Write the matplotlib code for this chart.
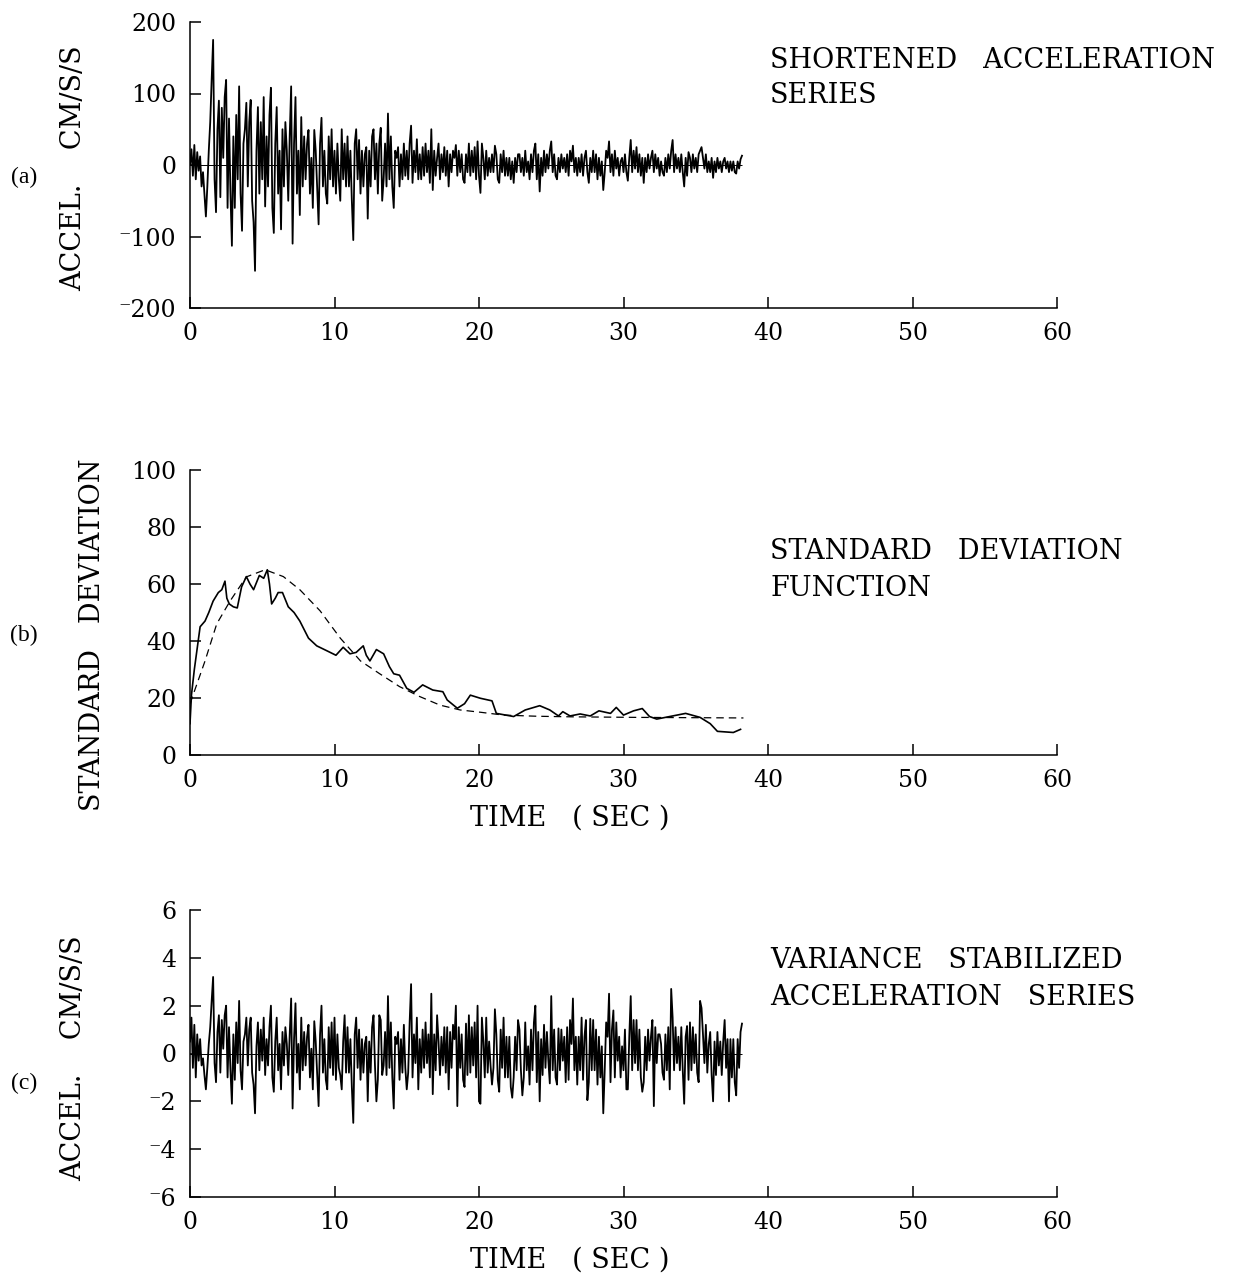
import numpy as np
import matplotlib
matplotlib.use('Agg')
import matplotlib.pyplot as plt

# %% values

# (a) shortened acceleration series (cm/s/s), one value every 0.1 s
accel = [
    0, 22, -15, 28, -20, 18, -8, 12, -30, -10,
    -40, -72, -30, 20, 60, 120, 175, -20, -66, 50,
    90, -45, 80, 10, 95, 119, -60, 65, -40, -113,
    40, -60, 70, -20, 110, -40, -92, 30, 50, 87,
    -30, 60, 91, -50, -80, -148, 20, 81, -40, 60,
    -20, 95, -58, 40, -30, 70, 108, -60, -95, 30,
    81, -40, 20, -90, 50, -30, 60, 20, -50, 40,
    110, -110, 30, 95, -40, 20, -70, 67, -30, 40,
    -20, 30, 49, -40, 10, -60, 49, 20, -30, -83,
    30, 66, -30, 20, -40, -54, 40, -20, 50, -30,
    20, -40, 30, -20, -50, 50, -20, 30, -30, 40,
    -30, 20, -50, -105, 30, 50, -20, 35, -40, 20,
    -30, 15, 25, -75, 20, -30, 40, 50, -20, 30,
    -40, 30, 52, -50, -20, 30, -30, 72, -20, 40,
    -30, -60, 20, 10, 25, -30, 15, -20, 30, -15,
    20, -20, 30, 55, -25, 20, -10, 36, -20, 15,
    -20, 25, -15, 30, -10, 20, -25, 50, -35, 20,
    -15, 10, 30, -20, 15, -10, 25, -15, 20, -30,
    15, -10, 20, 10, 28, -15, 20, -10, 15, -20,
    -25, 15, -10, 30, -15, 20, -10, 25, -20, 33,
    -15, -39, 30, 10, -20, 20, -15, 10, -10, 15,
    -10, 27, 15, -20, -25, 15, -10, 20, -15, 10,
    -15, 10, -20, 5, -25, 10, -10, 15, 15, -10,
    10, -15, 20, -10, 5, -20, 15, -10, 20, 30,
    -20, 15, -37, 10, -15, 20, -10, 15, -5, 20,
    33, -10, 15, -15, -20, 10, -10, 15, -5, 10,
    -10, 15, -15, 20, 5, 27, -10, 10, -15, 10,
    -10, 15, -15, 10, 20, -10, -25, 10, -10, 20,
    -10, 15, -20, 10, -15, 5, -35, -10, 20, 10,
    33, -10, 15, -15, 20, -5, 10, -15, 5, 10,
    -10, 15, -10, -22, 10, 35, -10, 20, -5, 25,
    -10, 15, -15, 10, -25, 10, -10, 15, -5, 10,
    20, -10, 15, -5, 10, -15, 5, -10, -15, 10,
    -10, 15, -5, 20, 35, -10, 15, -5, 10, -10,
    15, -10, -30, 10, -15, 18, 10, -10, 15, -5,
    10, -10, 15, 20, 25, 10, -5, 15, -10, 5,
    -10, 10, -18, 5, -10, 10, -5, 5, -10, 5,
    10, -5, 5, -10, 5, -8, 5, -10, -12, 5,
    -5, 8, 13]

# (b) standard deviation function (solid) and smooth fit (dashed)
sd_time = [0, 0.1, 0.3, 0.7, 1.04, 1.3, 1.6, 1.96, 2.2, 2.42,
           2.55, 2.72, 3.0, 3.27, 3.57, 3.9, 4.15, 4.4, 4.8, 5.1,
           5.35, 5.5, 5.65, 5.9, 6.1, 6.4, 6.8, 7.2, 7.6, 8.2,
           8.77, 9.5, 10.1, 10.6, 11.07, 11.5, 11.99, 12.2, 12.45, 12.9,
           13.4, 13.8, 14.1, 14.5, 15.0, 15.5, 16.1, 16.8, 17.5, 17.8,
           18.5, 19.0, 19.4, 20.1, 20.9, 21.2, 22.4, 23.2, 24.2, 24.9,
           25.5, 25.8, 26.3, 27.0, 27.7, 28.3, 29.1, 29.5, 30.0, 30.7,
           31.3, 31.8, 32.3, 33.2, 34.3, 35.3, 36.0, 36.5, 37.6, 38.1]
sd_value = [11, 21, 30, 45, 47, 50, 54, 57, 58, 61,
            55, 53, 52, 51.6, 59, 62.6, 60, 58, 63, 62,
            65, 60, 53, 55, 57, 57, 52, 50, 47, 41,
            38.3, 36.5, 35, 37.8, 35.5, 36, 38.3, 35, 33, 37,
            35.5, 31, 28.5, 28, 23.4, 22, 24.6, 22.8, 22.2, 19.3,
            16.4, 18, 21, 19.9, 19, 14.6, 13.5, 15.8, 17.3, 15.8,
            13.7, 15.2, 13.7, 14.4, 13.7, 15.5, 14.6, 16.7, 14, 15.5,
            16.3, 13.5, 12.6, 13.5, 14.6, 13.2, 11, 8.3, 7.9, 9]
fit_time = [0, 1.04, 1.85, 2.77, 3.9, 5.2, 6.46, 7.6, 9.0, 10.4, 11.8,
            13.1, 14.5, 15.9, 17.3, 18.7, 20.1, 21.7, 24.0, 26.3, 30.9, 38.3]
fit_value = [18, 33, 46, 54, 62.5, 65, 62.6, 58, 50.6, 41, 33,
             28.6, 24, 20.5, 17.5, 15.8, 15, 14, 13.6, 13.4, 13.2, 13.0]

# (c) variance stabilized acceleration series, one value every 0.1 s
accel_stab = [
    0.5, 1.5, -0.6, 1.2, -1.0, 0.8, -0.3, 0.6, -0.5, -0.2,
    -0.9, -1.5, -0.6, 0.4, 1.1, 2.2, 3.2, -0.4, -1.2, 0.9,
    1.6, -0.8, 1.4, 0.2, 1.6, 2.0, -1.0, 1.1, -0.7, -2.1,
    0.8, -1.1, 1.3, -0.4, 2.2, -0.7, -1.5, 0.5, 0.8, 1.5,
    -0.5, 1.0, 1.5, -0.8, -1.3, -2.5, 0.3, 1.3, -0.7, 1.0,
    -0.3, 1.5, -0.9, 0.6, -0.5, 1.1, 2.0, -1.0, -1.6, 0.5,
    1.5, -0.7, 0.4, -1.5, 0.9, -0.5, 1.1, 0.4, -0.9, 0.8,
    2.3, -2.3, 0.6, 2.1, -0.8, 0.4, -1.5, 1.5, -0.7, 0.9,
    -0.5, 0.7, 1.2, -1.0, 0.2, -1.5, 1.35, 0.5, -0.8, -2.2,
    0.8, 2.0, -0.8, 0.6, -1.1, -1.5, 1.1, -0.6, 1.3, -0.9,
    1.5, -1.1, 0.8, -0.6, -0.9, -1.5, 0.5, 1.6, -0.8, 1.1,
    -0.8, 0.6, -1.4, -2.9, 0.8, 1.5, -0.6, 1.0, -1.1, 0.6,
    -0.8, 0.4, 0.7, -2.0, 0.5, -0.8, 1.1, 1.6, -0.5, -2.0,
    -1.1, 1.6, 1.4, -0.9, -0.5, 0.9, -0.9, 2.4, -0.6, 1.3,
    -1.0, -2.3, 0.7, 0.4, 0.9, -1.1, 0.6, -0.8, 1.2, -0.6,
    -1.5, -0.8, 1.3, 2.9, -1.0, 0.8, -0.4, 1.5, -1.5, 0.6,
    -0.8, 1.0, -0.6, 1.3, -0.4, 0.8, -1.0, 2.5, -1.7, 0.8,
    -0.7, 1.6, 0.5, -0.9, 0.7, -0.5, 1.1, -0.8, 1.1, -1.5,
    0.9, -0.6, 1.2, 0.6, 2.0, -2.2, 1.1, -0.6, 0.8, -1.1,
    -1.4, 1.25, -0.9, 1.6, -0.8, 1.1, -0.5, 1.3, -1.0, 2.0,
    -2.0, -2.1, 1.5, 0.5, -1.0, 1.5, -0.8, 0.5, -0.5, -1.3,
    -0.6, 1.85, 0.8, -1.1, -1.6, 1.0, -0.6, 1.5, -1.0, 0.7,
    -1.0, 0.7, -1.4, -1.85, -1.0, 0.7, -0.7, 1.4, 1.0, -0.7,
    -1.75, -1.0, 1.3, -0.7, 0.3, -1.3, 1.0, -0.7, 1.3, 2.0,
    -1.2, 0.9, -2.0, 0.6, -0.9, 1.2, -0.6, 0.9, -0.3, -1.25,
    2.4, -0.7, 1.0, -1.0, -1.3, 1.05, -0.7, 1.0, -0.3, 0.7,
    -1.2, 1.1, -1.1, 1.4, 0.4, 2.3, -0.7, 0.7, -1.3, 0.7,
    -0.7, 1.5, -1.1, 0.7, 1.4, -1.95, -1.2, 1.45, -0.7, 1.4,
    -0.7, 1.0, -1.3, 0.7, -1.0, 0.3, -2.5, -0.7, 1.3, 0.7,
    2.5, -1.2, 1.0, 1.8, -1.0, 1.3, -0.3, 0.7, -1.0, 0.3,
    -0.7, 1.0, -1.5, -1.5, 0.7, 2.4, -0.7, 1.4, -0.4, 1.4,
    -0.7, 1.0, -1.0, -1.6, -1.2, 0.7, -0.7, 1.0, -0.3, 0.7,
    1.4, -2.2, 1.1, -0.4, 0.8, 0.8, 0.4, -0.8, -1.1, 0.8,
    -0.7, 1.1, -1.5, 2.7, 1.5, -0.7, 1.1, -0.4, 0.7, -0.7,
    1.1, -0.7, -2.1, 0.7, 1.15, -1.1, 1.3, -0.7, 1.1, -0.4,
    0.8, -0.8, -1.2, 2.2, 1.9, 0.8, -0.4, 1.2, -0.8, 0.4,
    0.9, -0.9, -2.0, 0.5, -0.9, 0.9, -0.5, 0.5, -0.9, 0.5,
    1.4, -0.6, 0.6, -2.0, 0.6, -1.0, 0.6, -1.2, -1.75, 0.6,
    -0.6, 0.9, 1.25]

time_step = 0.1
x_ticks = [0, 10, 20, 30, 40, 50, 60]
accel_ticks = [-200, -100, 0, 100, 200]
accel_ticklabels = ['\u207b200', '\u207b100', '0', '100', '200']
sd_ticks = [0, 20, 40, 60, 80, 100]
stab_ticks = [-6, -4, -2, 0, 2, 4, 6]
stab_ticklabels = ['\u207b6', '\u207b4', '\u207b2', '0', '2', '4', '6']

# %%

plt.rcParams['font.family'] = ['DejaVu Serif']
plt.rcParams['font.size'] = 17

W, H = 1246, 1278
fig = plt.figure(figsize=(W / 100, H / 100), dpi=100)
label_size = 19.5


def make_axes(top, bottom):
    ax = fig.add_axes([190 / W, 1 - bottom / H, 867 / W, (bottom - top) / H])
    for side in ['top', 'right']:
        ax.spines[side].set_visible(False)
    for side in ['left', 'bottom']:
        ax.spines[side].set_linewidth(1.1)
    ax.tick_params(direction='in', length=8, width=1.1, pad=10)
    ax.set_xlim(0, 60)
    ax.set_xticks(x_ticks)
    return ax


def px(x, y):
    return x / W, 1 - y / H


def note(x, y, s, **kw):
    fig.text(*px(x, y), s, fontsize=label_size, **kw)


t = np.arange(len(accel)) * time_step
t_stab = np.arange(len(accel_stab)) * time_step

# (a)
ax = make_axes(22, 308)
ax.plot(t, accel, color='black', lw=1.3)
ax.hlines(0, 0, t[-1], color='black', lw=0.7)
ax.set_ylim(-200, 200)
ax.set_yticks(accel_ticks)
ax.set_yticklabels(accel_ticklabels)
note(74, 168, 'ACCEL.    CM/S/S', rotation=90, ha='center', va='center')
fig.text(*px(24, 177), '(a)', ha='center', va='center', family='Liberation Serif', fontsize=17)
note(770, 68, 'SHORTENED   ACCELERATION', ha='left', va='baseline')
note(770, 103, 'SERIES', ha='left', va='baseline')

# (b)
ax = make_axes(470, 755)
ax.plot(sd_time, sd_value, color='black', lw=1.2)
ax.plot(fit_time, fit_value, color='black', lw=0.9, dashes=(6, 4))
ax.set_ylim(0, 100)
ax.set_yticks(sd_ticks)
note(92, 635, 'STANDARD   DEVIATION', rotation=90, ha='center', va='center')
fig.text(*px(24, 635), '(b)', ha='center', va='center', family='Liberation Serif', fontsize=17)
note(770, 559, 'STANDARD   DEVIATION', ha='left', va='baseline')
note(770, 596, 'FUNCTION', ha='left', va='baseline')
note(570, 818, 'TIME   ( SEC )', ha='center', va='center')

# (c)
ax = make_axes(910, 1197)
ax.plot(t_stab, accel_stab, color='black', lw=1.3)
ax.hlines(0, 0, t_stab[-1], color='black', lw=0.7)
ax.set_ylim(-6, 6)
ax.set_yticks(stab_ticks)
ax.set_yticklabels(stab_ticklabels)
note(74, 1058, 'ACCEL.    CM/S/S', rotation=90, ha='center', va='center')
fig.text(*px(24, 1083), '(c)', ha='center', va='center', family='Liberation Serif', fontsize=17)
note(770, 968, 'VARIANCE   STABILIZED', ha='left', va='baseline')
note(770, 1005, 'ACCELERATION   SERIES', ha='left', va='baseline')
note(570, 1260, 'TIME   ( SEC )', ha='center', va='center')

plt.savefig('out.png', dpi=100)
